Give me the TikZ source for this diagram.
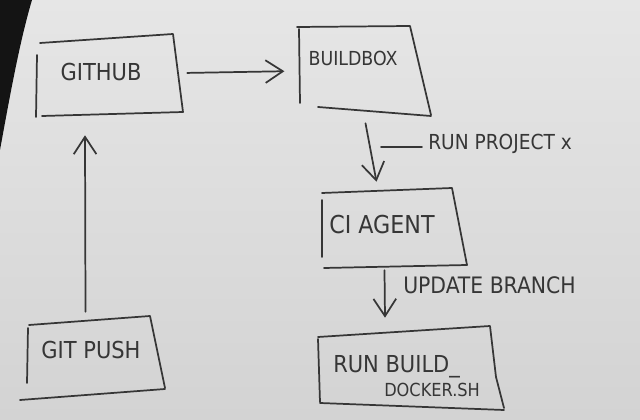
\documentclass[tikz,border=0pt]{standalone}
\usepackage{fontspec}
\setmainfont{DejaVu Sans Condensed}
\usetikzlibrary{arrows.meta,calc,fit}
\definecolor{ink}{HTML}{363636}
\definecolor{bgtop}{HTML}{E6E6E6}
\definecolor{bgbot}{HTML}{D3D3D3}
\tikzset{
  pen/.style={draw=ink, line width=1.3pt, line cap=round, line join=round},
  arr/.style={pen, -{Straight Barb[length=13pt,width=17pt,line width=1.3pt]}},
  holder/.style={inner sep=0pt, draw=none},
  hand/.style={text=ink, inner sep=0pt, font=\fontsize{17}{20}\selectfont},
}
\begin{document}
\begin{tikzpicture}[x=0.75pt,y=-0.75pt]
\useasboundingbox (0,0) rectangle (640,420);
% paper background
\shade[top color=bgtop, bottom color=bgbot] (0,0) rectangle (640,420);
\fill[black!92] (0,0) -- (32,0) .. controls (20,40) and (10,95) .. (0,150) -- cycle;

% node placeholders
\node[holder, fit={(37,33) (183,113)}] (github) {};
\node[holder, fit={(298,26) (431,116)}] (buildbox) {};
\node[holder, fit={(322,188) (467,268)}] (ci) {};
\node[holder, fit={(318,326) (504,410)}] (run) {};
\node[holder, fit={(20,316) (165,400)}] (gitpush) {};

% hand drawn outlines
% GITHUB
\draw[pen] (40,43) -- (173,34) -- (183,112);
\draw[pen] (37,55) -- (36,117);
\draw[pen] (42,116) -- (183,112);
% BUILDBOX
\draw[pen] (297,27) -- (410,26) -- (431,115);
\draw[pen] (299,29) -- (300,103);
\draw[pen] (318,107) -- (431,116);
% CI AGENT
\draw[pen] (322,193) -- (452,188) -- (467,265);
\draw[pen] (322,200) -- (322,257);
\draw[pen] (324,268) -- (467,265);
% RUN BUILD_DOCKER.SH
\draw[pen] (318,337) -- (490,326) -- (496,377) -- (504,408);
\draw[pen] (318,339) -- (320,402);
\draw[pen] (320,403) -- (504,410);
% GIT PUSH
\draw[pen] (29,325) -- (150,316) -- (165,388);
\draw[pen] (28,328) -- (27,383);
\draw[pen] (20,400) -- (165,389);

% texts
\node[hand, font=\fontsize{17.5}{20}\selectfont] (githubt) at (101,72) {GITHUB};
\node[hand, font=\fontsize{14.5}{17}\selectfont] (buildboxt) at (353,58) {BUILDBOX};
\node[hand, font=\fontsize{18.5}{20}\selectfont] (cit) at (382,225) {CI AGENT};
\node[hand, font=\fontsize{17.5}{20}\selectfont] (gitpusht) at (91,350) {GIT PUSH};
\node[hand, anchor=west, font=\fontsize{17.5}{20}\selectfont] (runt1) at (333,367) {RUN BUILD\_};
\node[hand, anchor=west, font=\fontsize{13.5}{16}\selectfont] (runt2) at (384,390) {DOCKER.SH};

% connectors
\draw[arr, shorten <=3pt, shorten >=10pt] (github.east) -- (buildbox.west);
\draw[arr] ($(buildbox.south)+(1,7)$) -- ($(ci.north)+(-18,-6)$);
\draw[arr] ($(ci.south)+(-10,2)$) -- ($(run.north)+(-26,-8)$);
\draw[arr] ($(gitpush.north)+(-7,-4)$) -- ($(github.south)+(-25,22)$);

% labels
\node[hand, anchor=west, font=\fontsize{15.5}{18}\selectfont] (lblrun) at (428,144) {RUN PROJECT x};
\coordinate (lead) at (381,147);
\draw[pen] (lead) -- ($(lblrun.west)+(-6,3)$);
\node[hand, anchor=west, font=\fontsize{17}{20}\selectfont] (lblupd) at (403,285) {UPDATE BRANCH};
\end{tikzpicture}
\end{document}
